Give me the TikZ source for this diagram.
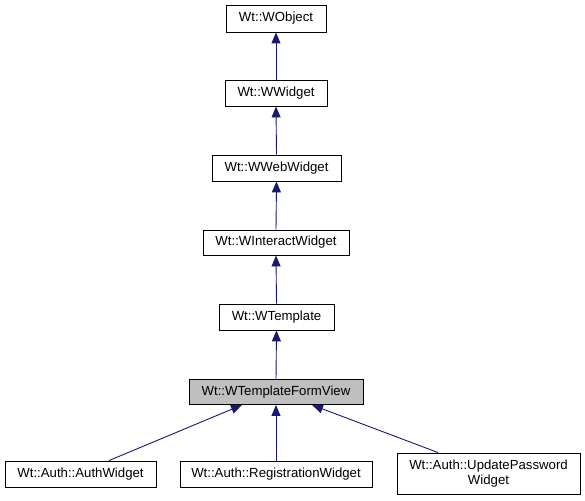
\documentclass[tikz,border=0pt]{standalone}
\usepackage{fontspec}
\setmainfont{Liberation Sans}
\usetikzlibrary{arrows.meta}
\definecolor{edgeblue}{HTML}{191970}
\definecolor{focusgray}{HTML}{BFBFBF}
\begin{document}
\begin{tikzpicture}[x=1pt,y=-1pt,
  cls/.style={draw=black,line width=0.9pt,fill=white,inner sep=0pt,minimum height=26pt,
    font=\fontsize{13.2}{15}\selectfont,anchor=center},
  focus/.style={cls,fill=focusgray},
  inh/.style={draw=edgeblue,line width=0.9pt,{Triangle[length=11pt,width=9pt,fill=edgeblue]}-}]
\useasboundingbox (0,0) rectangle (585,500);
\node[cls,minimum width=100pt,minimum height=27pt] (wobject) at (276,18.5) {Wt::WObject};
\node[cls,minimum width=102pt] (wwidget) at (276,93) {Wt::WWidget};
\node[cls,minimum width=129pt] (wweb) at (276.5,168) {Wt::WWebWidget};
\node[cls,minimum width=146pt,minimum height=25pt] (winter) at (276,242.5) {Wt::WInteractWidget};
\node[cls,minimum width=115pt] (wtemplate) at (276.5,317) {Wt::WTemplate};
\node[focus,minimum width=174pt,minimum height=25pt] (fv) at (276,392) {Wt::WTemplateFormView};
\node[cls,minimum width=151pt] (auth) at (80.5,474) {Wt::Auth::AuthWidget};
\node[cls,minimum width=192pt] (reg) at (276,474) {Wt::Auth::RegistrationWidget};
\node[cls,minimum width=183pt,minimum height=41pt,align=center] (upd) at (488.5,473.5) {Wt::Auth::UpdatePassword\\Widget};
\draw[inh] (wobject.south) -- (wwidget.north);
\draw[inh] (wwidget.south) -- (wweb.north);
\draw[inh] (wweb.south) -- (winter.north);
\draw[inh] (winter.south) -- (wtemplate.north);
\draw[inh] (wtemplate.south) -- (fv.north);
\draw[inh] (fv.south) -- (reg.north);
\draw[inh] ([xshift=-34pt]fv.south) -- ([xshift=28.5pt]auth.north);
\draw[inh] ([xshift=36pt]fv.south) -- ([xshift=-50.5pt]upd.north);
\end{tikzpicture}
\end{document}
